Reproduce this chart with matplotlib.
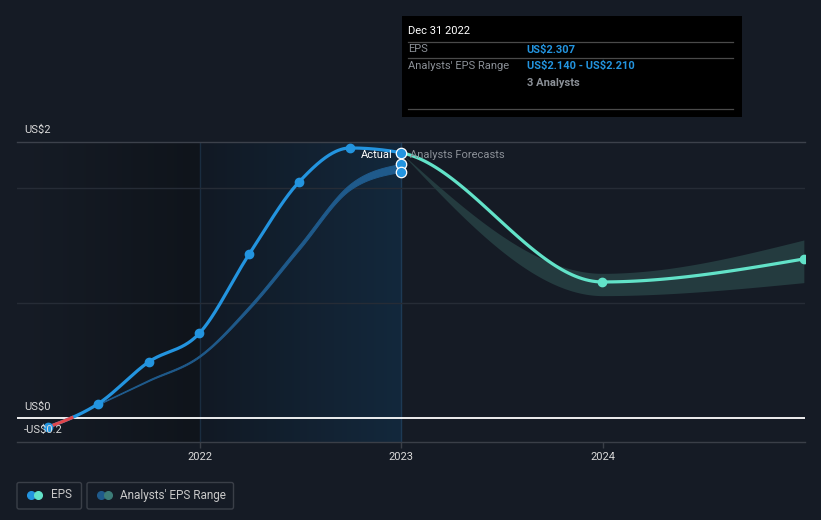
import numpy as np
import matplotlib
matplotlib.use("Agg")
import matplotlib.pyplot as plt
from matplotlib.patches import FancyBboxPatch, Rectangle
from datetime import date

plt.rcParams['font.family'] = ['Roboto', 'DejaVu Sans']
plt.rcParams['text.parse_math'] = False

# ---------------- data ----------------
eps_dates = ["2021-03-31", "2021-06-30", "2021-09-30", "2021-12-31",
             "2022-03-31", "2022-06-30", "2022-09-30", "2022-12-31"]
eps_values = [-0.081, 0.122, 0.487, 0.737, 1.423, 2.055, 2.348, 2.307]

fc_dates = ["2022-12-31", "2023-12-31", "2024-12-31"]
fc_mean = [2.307, 1.183, 1.383]
fc_low = [2.307, 1.064, 1.177]
fc_high = [2.307, 1.258, 1.548]

past_range_dates = ["2021-06-30", "2021-09-30", "2021-12-31", "2022-03-31",
                    "2022-06-30", "2022-09-30", "2022-12-31"]
past_range_low = [0.116, 0.322, 0.53, 0.945, 1.465, 1.985, 2.14]
past_range_high = [0.121, 0.332, 0.545, 0.975, 1.505, 2.035, 2.21]

year_ticks = [2022, 2023, 2024]
y_label_text = ["US$2", "US$0", "-US$0.2"]

tooltip_date = "Dec 31 2022"
tooltip_eps = "US$2.307"
tooltip_range = "US$2.140 - US$2.210"
tooltip_analysts = "3 Analysts"

# ---------------- helpers ----------------
def dy(s):
    d = date.fromisoformat(s)
    a = date(d.year, 1, 1)
    b = date(d.year + 1, 1, 1)
    return d.year + (d - a).days / (b - a).days


def monotone(xs, ys, n=60):
    """d3 curveMonotoneX rendering of the given points."""
    xs = np.asarray(xs, float)
    ys = np.asarray(ys, float)
    N = len(xs)
    if N == 2:
        return xs, ys
    h = np.diff(xs)
    s = np.diff(ys) / h
    t = np.zeros(N)
    for i in range(1, N - 1):
        h0, h1 = h[i - 1], h[i]
        s0, s1 = s[i - 1], s[i]
        p = (s0 * h1 + s1 * h0) / (h0 + h1)
        t[i] = (np.sign(s0) + np.sign(s1)) * min(abs(s0), abs(s1), 0.5 * abs(p))
    t[0] = (3 * s[0] - t[1]) / 2
    t[-1] = (3 * s[-1] - t[-2]) / 2
    X, Y = [], []
    for i in range(N - 1):
        x0, x1 = xs[i], xs[i + 1]
        y0, y1 = ys[i], ys[i + 1]
        dx = (x1 - x0) / 3
        c1x, c1y = x0 + dx, y0 + dx * t[i]
        c2x, c2y = x1 - dx, y1 - dx * t[i + 1]
        u = np.linspace(0, 1, n, endpoint=(i == N - 2))
        bx = (1 - u) ** 3 * x0 + 3 * (1 - u) ** 2 * u * c1x + 3 * (1 - u) * u ** 2 * c2x + u ** 3 * x1
        by = (1 - u) ** 3 * y0 + 3 * (1 - u) ** 2 * u * c1y + 3 * (1 - u) * u ** 2 * c2y + u ** 3 * y1
        X.append(bx)
        Y.append(by)
    return np.concatenate(X), np.concatenate(Y)


# ---------------- style ----------------
BG = "#151b25"
BLUE = "#2394df"
TEAL = "#62e2c8"
RED = "#e0474c"
PAST_BAND = "#1f5a8b"
FC_BAND = "#243b3f"
GRID = "#262c36"
EDGE = "#3a3f48"
TXT = "#d9d9d9"
GREY = "#8b9097"

W, H = 821, 520
fig = plt.figure(figsize=(W / 100, H / 100), dpi=100, facecolor=BG)

L, R, T, B = 17, 805, 142, 442
ax = fig.add_axes([L / W, 1 - B / H, (R - L) / W, (B - T) / H])
ax.set_facecolor(BG)

x_min, x_max = 2021.092, 2025.003
y_min, y_max = -0.2087, 2.4

ov = fig.add_axes([0, 0, 1, 1], zorder=10)
ov.set_xlim(0, W)
ov.set_ylim(H, 0)
ov.axis("off")
ov.patch.set_alpha(0)

# background gradients
def hgrad(c0, c1, n=256):
    c0 = np.array(matplotlib.colors.to_rgb(c0))
    c1 = np.array(matplotlib.colors.to_rgb(c1))
    u = np.linspace(0, 1, n)[:, None]
    return (c0 * (1 - u) + c1 * u)[None, :, :]

past_start = year_ticks[0]
past_end = dy(eps_dates[-1])
ax.imshow(hgrad("#161c26", "#0f141b"), extent=[x_min, past_start, y_min, y_max],
          aspect="auto", zorder=0, interpolation="bilinear")
ax.imshow(hgrad("#111924", "#13283c"), extent=[past_start, past_end, y_min, y_max],
          aspect="auto", zorder=0, interpolation="bilinear")
ax.set_xlim(x_min, x_max)
ax.set_ylim(y_min, y_max)

ax.axvline(past_start, color="#1a2d40", lw=1, zorder=1)
ax.axvline(past_end, color="#1d3a55", lw=1, zorder=1)

# grid lines
for g in (1, 2):
    ax.axhline(g, color=GRID, lw=1, zorder=1)
ax.axhline(0, color="#ffffff", lw=1.3, zorder=2)

for sp in ("left", "right"):
    ax.spines[sp].set_visible(False)
ax.spines["top"].set_color("#3c414b")
ax.spines["bottom"].set_color(EDGE)
ax.spines["top"].set_linewidth(1)
ax.spines["bottom"].set_linewidth(1)

ax.set_yticks([])
ax.set_xticks(year_ticks)
ax.set_xticklabels([str(y) for y in year_ticks])
ax.tick_params(axis="x", colors=EDGE, length=4, width=1, pad=3,
               labelsize=8, labelcolor=TXT)

# past analysts range band
px_, pl_ = monotone([dy(d) for d in past_range_dates], past_range_low)
_, ph_ = monotone([dy(d) for d in past_range_dates], past_range_high)
ax.fill_between(px_, pl_, ph_, color=PAST_BAND, lw=0.7, edgecolor=PAST_BAND, zorder=3)

# forecast band
fx, fl = monotone([dy(d) for d in fc_dates], fc_low)
_, fh = monotone([dy(d) for d in fc_dates], fc_high)
ax.fill_between(fx, fl, fh, color=FC_BAND, lw=0, zorder=3)

# EPS line (actual + forecast as one curve)
all_x = [dy(d) for d in eps_dates] + [dy(d) for d in fc_dates[1:]]
all_y = eps_values + fc_mean[1:]
cx, cy = monotone(all_x, all_y)
split = dy(eps_dates[-1])
act = cx <= split + 1e-9
ax.plot(cx[act], cy[act], color=BLUE, lw=2.3, zorder=5, solid_capstyle="round")
ax.plot(cx[cx >= split - 1e-9], cy[cx >= split - 1e-9], color=TEAL, lw=2.3, zorder=5,
        solid_capstyle="round")
neg = np.ma.masked_where(cy > 0.005, cy)
ax.plot(cx, neg, color=RED, lw=2.3, zorder=6)

# markers
ax.plot([dy(d) for d in eps_dates[:-1]], eps_values[:-1], "o", color=BLUE, ms=6, zorder=7,
        mec=BLUE)
ax.plot([dy(d) for d in fc_dates[1:]], fc_mean[1:], "o", color=TEAL, ms=6, zorder=7, mec=TEAL)
ax.plot([split] * 3, [eps_values[-1], past_range_high[-1], past_range_low[-1]], "o",
        color=BLUE, ms=7.5, mec="white", mew=0.9, zorder=8)

# Actual / Forecast labels
ax.text(393, 155, "Actual", transform=ov.transData, ha="right", va="center",
        color="#ffffff", fontsize=8, zorder=6, clip_on=False)
ax.text(410, 155, "Analysts Forecasts", transform=ov.transData, ha="left", va="center",
        color=GREY, fontsize=8, zorder=6, clip_on=False)

# y labels
ov.text(24, 130, y_label_text[0], color=TXT, fontsize=8, va="center", ha="left")
ov.text(24, 407, y_label_text[1], color=TXT, fontsize=8, va="center", ha="left")
ov.text(24, 430, y_label_text[2], color=TXT, fontsize=8, va="center", ha="left", zorder=1)

# tooltip
ov.add_patch(Rectangle((401.5, 16), 340, 101, facecolor="#000000", edgecolor="none", zorder=20))
for yy in (41.7, 58.3, 109.3):
    ov.plot([408, 733], [yy, yy], color="#4a4a4a", lw=0.9, zorder=21)
ov.text(408.5, 31, tooltip_date, color="#ffffff", fontsize=8, va="center", zorder=22)
ov.text(408.5, 49.5, "EPS", color=GREY, fontsize=8, va="center", zorder=22)
ov.text(526.7, 49.5, tooltip_eps, color=BLUE, fontsize=8, va="center", zorder=22,
        fontweight="bold")
ov.text(408.5, 66, "Analysts' EPS Range", color=GREY, fontsize=8, va="center", zorder=22)
ov.text(526.7, 66, tooltip_range, color=BLUE, fontsize=8, va="center", zorder=22,
        fontweight="bold")
ov.text(526.7, 83, tooltip_analysts, color=GREY, fontsize=8, va="center", zorder=22,
        fontweight="bold")

# legend
ov.add_patch(FancyBboxPatch((17, 482.5), 64.5, 26.5, boxstyle="round,pad=0,rounding_size=2",
                            facecolor="none", edgecolor=EDGE, lw=1, zorder=20))
ov.add_patch(FancyBboxPatch((87, 482.5), 146.5, 26.5, boxstyle="round,pad=0,rounding_size=2",
                            facecolor="none", edgecolor=EDGE, lw=1, zorder=20))
ov.plot([31], [494.5], "o", color=BLUE, ms=5.5, zorder=21)
ov.plot([37.5], [494.5], "o", color=TEAL, ms=5.5, zorder=22)
ov.text(50.5, 495, "EPS", color="#c8c8c8", fontsize=8.5, va="center", zorder=22)
ov.plot([100.7], [494.5], "o", color=PAST_BAND, ms=5.5, zorder=21)
ov.plot([107.7], [494.5], "o", color="#3c7c77", ms=5.5, zorder=22)
ov.text(120.5, 495, "Analysts' EPS Range", color="#c8c8c8", fontsize=8.5, va="center", zorder=22)

fig.savefig("out.png", dpi=100, facecolor=BG)
